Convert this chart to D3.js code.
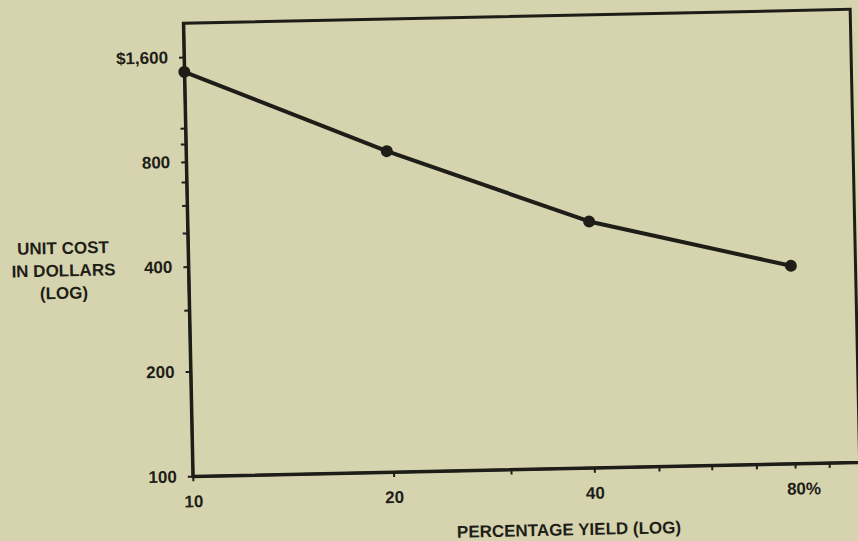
<!DOCTYPE html>
<html>
<head>
<meta charset="utf-8">
<script src="https://cdn.jsdelivr.net/npm/d3@7"></script>
<style>
  html, body { margin: 0; padding: 0; background: #d5d4ae; }
  svg { display: block; }
  .lbl { font-family: "Liberation Sans", Arial, sans-serif; font-weight: bold; font-size: 17px; fill: #1e1d18; }
</style>
</head>
<body>
<div id="vis-container"></div>
<script>
// data (log / log)
const yieldPct = [10, 20, 40, 80];
const unitCost = [1450, 835, 510, 370];

// axis ticks and the ones that get a label
const xTickValues = [10, 20, 30, 40, 50, 60, 70, 80, 90];
const xLabelValues = [10, 20, 40, 80];
const yTickValues = [100, 200, 300, 400, 500, 600, 700, 800, 900, 1000, 1600];
const yLabelValues = [100, 200, 400, 800, 1600];

const yTitleLines = ["UNIT COST", "IN DOLLARS", "(LOG)"];
const xTitle = "PERCENTAGE YIELD (LOG)";

let width = 858;
let height = 541;
let margins = { top: 23.3, left: 183.3 };
let visWidth = 667;
let visHeight = 453;

let svg = d3.select("#vis-container").append("svg")
    .attr("width", width).attr("height", height);

svg.append("rect").attr("width", width).attr("height", height).attr("fill", "#d5d4ae");

// the scan is a bit tilted, so the whole chart is rotated slightly
let viewport = svg.append("g")
    .attr("transform", "translate(" + margins.left + "," + margins.top + ") rotate(-1.2)");

let xScale = d3.scaleLog().domain([10, 100]).range([0, visWidth]);
let yScale = d3.scaleLog().domain([100, 2000]).range([visHeight, 0]);

let points = yieldPct.map((d, i) => ({ x: d, y: unitCost[i] }));

// frame
viewport.append("rect")
    .attr("width", visWidth).attr("height", visHeight)
    .attr("fill", "none").attr("stroke", "#1e1d18").attr("stroke-width", 3);

// x axis
let xAxis = viewport.append("g")
    .attr("class", "x axis")
    .attr("transform", "translate(0," + visHeight + ")")
    .call(d3.axisBottom(xScale)
        .tickValues(xTickValues)
        .tickSize(5).tickSizeOuter(0).tickPadding(14)
        .tickFormat(d => xLabelValues.includes(d) ? (d === 80 ? "80%" : d) : ""));

// y axis
let yAxis = viewport.append("g")
    .attr("class", "y axis")
    .call(d3.axisLeft(yScale)
        .tickValues(yTickValues)
        .tickSize(5).tickSizeOuter(0).tickPadding(11)
        .tickFormat(d => yLabelValues.includes(d) ? (d === 1600 ? d3.format("$,")(d) : d) : ""));

viewport.selectAll(".axis .domain").attr("stroke", "#1e1d18").attr("stroke-width", 3);
viewport.selectAll(".axis .tick line").attr("stroke", "#1e1d18").attr("stroke-width", 2);
viewport.selectAll(".axis .tick text").attr("class", "lbl").attr("font-size", null).attr("font-family", null);

// "80%" is centred on the 80, the % hangs off to the right
xAxis.selectAll(".tick text").filter(d => d === 80)
    .attr("text-anchor", "start").attr("x", -9);

// line + dots
let lineGen = d3.line()
    .x(d => xScale(d.x))
    .y(d => yScale(d.y));

viewport.append("path")
    .attr("d", lineGen(points))
    .attr("fill", "none").attr("stroke", "#1e1d18").attr("stroke-width", 4)
    .attr("stroke-linejoin", "round");

viewport.append("g").selectAll("circle")
    .data(points).enter().append("circle")
    .attr("cx", d => xScale(d.x))
    .attr("cy", d => yScale(d.y))
    .attr("r", 6).attr("fill", "#1e1d18");

// axis titles
viewport.append("g").selectAll("text")
    .data(yTitleLines).enter().append("text")
    .attr("class", "lbl")
    .attr("text-anchor", "middle")
    .attr("x", -125)
    .attr("y", (d, i) => 228 + i * 22.5)
    .text(d => d);

viewport.append("text")
    .attr("class", "lbl")
    .attr("text-anchor", "middle")
    .attr("x", 375).attr("y", 520)
    .text(xTitle);
</script>
</body>
</html>
